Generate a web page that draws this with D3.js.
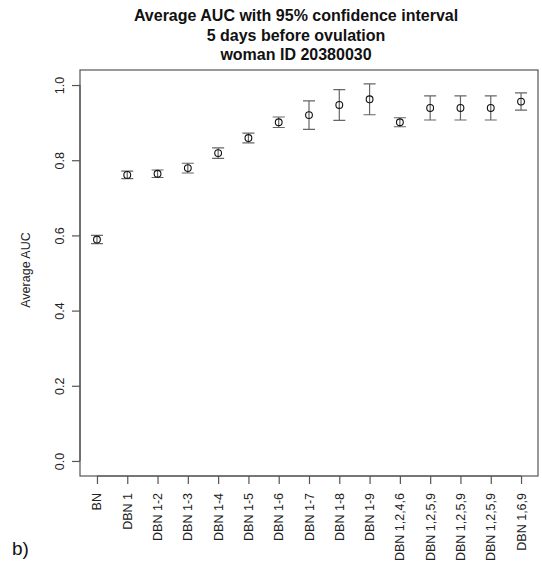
<!DOCTYPE html>
<html>
<head>
<meta charset="utf-8">
<script src="https://cdn.jsdelivr.net/npm/d3@7"></script>
<style>
  body { margin: 0; background: #fff; }
  svg { display: block; font-family: "Liberation Sans", Arial, Helvetica, sans-serif; }
</style>
</head>
<body>
<svg id="chart" width="542" height="561"></svg>
<script>
// Model labels along the x axis
const models = ["BN", "DBN 1", "DBN 1-2", "DBN 1-3", "DBN 1-4", "DBN 1-5", "DBN 1-6",
  "DBN 1-7", "DBN 1-8", "DBN 1-9", "DBN 1,2,4,6", "DBN 1,2,5,9", "DBN 1,2,5,9",
  "DBN 1,2,5,9", "DBN 1,6,9"];
// Mean AUC per model
const meanAUC = [0.589, 0.761, 0.764, 0.779, 0.819, 0.859, 0.901,
  0.920, 0.947, 0.962, 0.901, 0.939, 0.939, 0.939, 0.956];
// Half-width of the 95% confidence interval
const ciHalf = [0.011, 0.010, 0.010, 0.013, 0.014, 0.013, 0.014,
  0.038, 0.041, 0.041, 0.012, 0.032, 0.032, 0.032, 0.023];
const yTicks = [0, 0.2, 0.4, 0.6, 0.8, 1.0];
const titleLines = ["Average AUC with 95% confidence interval", "5 days before ovulation", "woman ID 20380030"];

const svg = d3.select("#chart");
const box = { left: 80, right: 538, top: 70, bottom: 476 };

// R-style 4% padding on both axes
const x = d3.scaleLinear().domain([1 - 0.56, 15 + 0.56]).range([box.left, box.right]);
const y = d3.scaleLinear().domain([-0.04, 1.04]).range([box.bottom, box.top]);

const axisColor = "#555";

// Plot frame
svg.append("rect")
  .attr("x", box.left).attr("y", box.top)
  .attr("width", box.right - box.left).attr("height", box.bottom - box.top)
  .attr("fill", "none").attr("stroke", axisColor).attr("stroke-width", 1.2);

// Y axis
const yAxis = svg.append("g")
  .attr("transform", `translate(${box.left},0)`)
  .call(d3.axisLeft(y).tickValues(yTicks).tickFormat(d3.format(".1f")).tickSize(8).tickPadding(0));
yAxis.select(".domain").attr("d", `M0,${y(0)}V${y(1)}`).attr("stroke", axisColor).attr("stroke-width", 1.2);
yAxis.selectAll(".tick line").attr("stroke", axisColor).attr("stroke-width", 1.2);
yAxis.selectAll(".tick text")
  .attr("x", 0).attr("dy", null)
  .attr("transform", "translate(-20,0) rotate(-90)")
  .attr("text-anchor", "middle").attr("dominant-baseline", "central")
  .attr("font-size", 12.5).attr("fill", "#222");

// X axis
const xAxis = svg.append("g")
  .attr("transform", `translate(0,${box.bottom})`)
  .call(d3.axisBottom(x).tickValues(d3.range(1, models.length + 1))
    .tickFormat(i => models[i - 1]).tickSize(8).tickPadding(0));
xAxis.select(".domain").attr("d", `M${x(1)},0H${x(models.length)}`).attr("stroke", axisColor).attr("stroke-width", 1.2);
xAxis.selectAll(".tick line").attr("stroke", axisColor).attr("stroke-width", 1.2);
xAxis.selectAll(".tick text")
  .attr("y", 0).attr("dy", null)
  .attr("transform", "translate(0,17) rotate(-90)")
  .attr("text-anchor", "end").attr("dominant-baseline", "central")
  .attr("font-size", 12.5).attr("fill", "#222");

// Confidence interval bars
const rows = models.map((m, i) => ({ i: i + 1, m: meanAUC[i], h: ciHalf[i] }));
const bars = svg.append("g").attr("stroke", "#666").attr("stroke-width", 1.2).attr("fill", "none");
bars.selectAll("path").data(rows).join("path")
  .attr("d", d => {
    const cx = x(d.i), yl = y(d.m - d.h), yh = y(d.m + d.h);
    return `M${cx - 6},${yh}H${cx + 6}M${cx},${yh}V${yl}M${cx - 6},${yl}H${cx + 6}`;
  });

// Mean markers
svg.append("g").selectAll("circle").data(rows).join("circle")
  .attr("cx", d => x(d.i)).attr("cy", d => y(d.m)).attr("r", 3.4)
  .attr("fill", "none").attr("stroke", "#111").attr("stroke-width", 1.1);

// Title
svg.append("g").selectAll("text").data(titleLines).join("text")
  .attr("x", 296).attr("y", (d, i) => 21 + i * 19.5)
  .attr("text-anchor", "middle").attr("font-weight", "bold").attr("font-size", 16)
  .attr("fill", "#111").text(d => d);

// Y axis title
svg.append("text")
  .attr("transform", `translate(26,${(box.top + box.bottom) / 2 - 3}) rotate(-90)`)
  .attr("text-anchor", "middle").attr("dominant-baseline", "central")
  .attr("font-size", 12.5).attr("fill", "#222").text("Average AUC");

// Panel tag
svg.append("text").attr("x", 12).attr("y", 555)
  .attr("font-size", 19).attr("fill", "#111").text("b)");
</script>
</body>
</html>
